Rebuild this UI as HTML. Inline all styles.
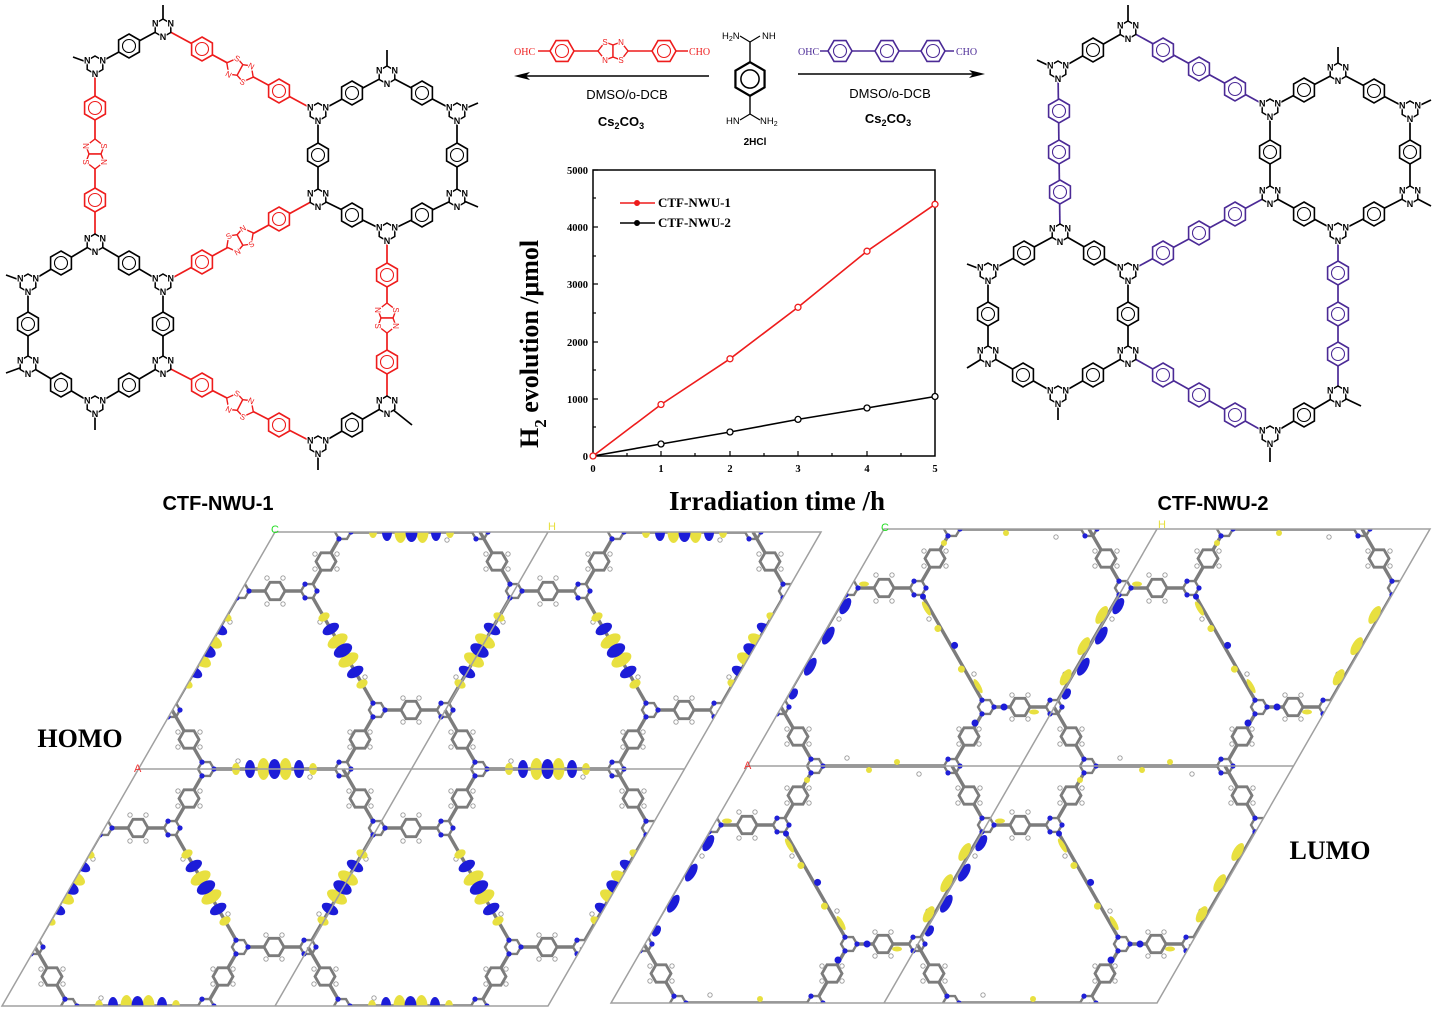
<!DOCTYPE html>
<html><head><meta charset="utf-8"><style>
html,body{margin:0;padding:0;background:#fff;overflow:hidden;width:1435px;height:1012px}
svg{display:block}
.sans{font-family:"Liberation Sans",sans-serif}
.serif{font-family:"Liberation Serif",serif}
</style></head><body>
<svg width="1435" height="1012" viewBox="0 0 1435 1012" xmlns="http://www.w3.org/2000/svg">
<defs>
<g id="tri"><polygon points="0,-9 7.8,-4.5 7.8,4.5 0,9 -7.8,4.5 -7.8,-4.5" fill="#fff" stroke="currentColor" stroke-width="1.5"/>
<g font-family="Liberation Sans,sans-serif" font-size="9" font-weight="bold" text-anchor="middle" fill="currentColor" stroke="#fff" stroke-width="2" paint-order="stroke"><text x="-7.8" y="-1.5">N</text><text x="7.8" y="-1.5">N</text><text x="0" y="12">N</text></g></g>
<g id="ph"><polygon points="0,-12 10.4,-6 10.4,6 0,12 -10.4,6 -10.4,-6" fill="#fff" stroke="currentColor" stroke-width="1.6"/><circle r="6.5" fill="none" stroke="currentColor" stroke-width="1.1"/></g>
<g id="tz"><polygon points="0,-6 -8,-9 -15,0 -8,9 0,6" fill="#fff" stroke="currentColor" stroke-width="1.4"/><polygon points="0,-6 8,-9 15,0 8,9 0,6" fill="#fff" stroke="currentColor" stroke-width="1.4"/>
<g font-family="Liberation Sans,sans-serif" font-size="8" text-anchor="middle" fill="currentColor" stroke="#fff" stroke-width="2" paint-order="stroke"><text x="-8" y="-6">S</text><text x="-8" y="12">N</text><text x="8" y="-6">N</text><text x="8" y="12">S</text></g></g>

<g id="bph"><polygon points="10,0 5,8.7 -5,8.7 -10,0 -5,-8.7 5,-8.7" fill="#fff" stroke="#7c7c7c" stroke-width="2.8"/></g>
<g id="btr"><polygon points="8,0 4,6.9 -4,6.9 -8,0 -4,-6.9 4,-6.9" fill="#fff" stroke="#7c7c7c" stroke-width="2.4"/>
<circle cx="8" cy="0" r="2.6" fill="#2020d8"/><circle cx="-4" cy="6.9" r="2.6" fill="#2020d8"/><circle cx="-4" cy="-6.9" r="2.6" fill="#2020d8"/></g>
<g id="skel">
<g stroke="#7c7c7c" stroke-width="3.4" fill="none">
<line x1="-34" y1="59" x2="34" y2="59"/><line x1="34" y1="59" x2="68" y2="0"/><line x1="-34" y1="59" x2="-68" y2="0"/>
<line x1="68" y1="0" x2="34" y2="-59"/><line x1="102" y1="178" x2="68" y2="237"/><line x1="102" y1="178" x2="170" y2="178"/>
<line x1="34" y1="59" x2="102" y2="178"/><line x1="68" y1="0" x2="205" y2="0"/><line x1="-34" y1="59" x2="-103" y2="178"/>
</g>
<use href="#bph" x="0" y="59"/><use href="#bph" x="51" y="29.5"/><use href="#bph" x="-51" y="29.5"/><use href="#bph" x="51" y="-29.5"/><use href="#bph" x="85" y="207.5"/><use href="#bph" x="136" y="178"/>
<use href="#btr" x="-34" y="59"/><use href="#btr" x="34" y="59"/><use href="#btr" x="68" y="0"/><use href="#btr" x="205" y="0"/><use href="#btr" x="102" y="178"/><use href="#btr" x="-103" y="178"/>
<g fill="#fff" stroke="#999" stroke-width="0.9">
<circle cx="-8" cy="46" r="2.2"/><circle cx="8" cy="72" r="2.2"/><circle cx="-8" cy="72" r="2.2"/><circle cx="8" cy="46" r="2.2"/>
<circle cx="40" cy="22" r="2.2"/><circle cx="62" cy="37" r="2.2"/><circle cx="40" cy="37" r="2.2"/><circle cx="62" cy="22" r="2.2"/>
<circle cx="-40" cy="22" r="2.2"/><circle cx="-62" cy="37" r="2.2"/><circle cx="-40" cy="37" r="2.2"/><circle cx="-62" cy="22" r="2.2"/>
<circle cx="40" cy="-22" r="2.2"/><circle cx="62" cy="-37" r="2.2"/><circle cx="40" cy="-37" r="2.2"/><circle cx="62" cy="-22" r="2.2"/>
<circle cx="75" cy="200" r="2.2"/><circle cx="95" cy="215" r="2.2"/><circle cx="75" cy="215" r="2.2"/><circle cx="95" cy="200" r="2.2"/>
<circle cx="128" cy="166" r="2.2"/><circle cx="144" cy="190" r="2.2"/><circle cx="128" cy="190" r="2.2"/><circle cx="144" cy="166" r="2.2"/>
<circle cx="45" cy="90" r="2.2"/><circle cx="90" cy="145" r="2.2"/><circle cx="100" cy="-8" r="2.2"/><circle cx="172" cy="8" r="2.2"/><circle cx="-45" cy="90" r="2.2"/><circle cx="-92" cy="145" r="2.2"/>
</g>
</g>
<g id="cellH">
<use href="#skel"/>
<g fill="#e8e040"><ellipse rx="4" ry="6" transform="translate(49,85) rotate(60)"/><ellipse rx="6" ry="11" transform="translate(62.6,109) rotate(60)"/><ellipse rx="6" ry="11" transform="translate(73.4,128) rotate(60)"/><ellipse rx="4" ry="6" transform="translate(87,152) rotate(60)"/></g>
<g fill="#1c1cd8"><ellipse rx="5" ry="9" transform="translate(55.8,97) rotate(60)"/><ellipse rx="6" ry="10" transform="translate(68,118.5) rotate(60)"/><ellipse rx="5" ry="9" transform="translate(80.2,140) rotate(60)"/></g>
<g fill="#e8e040"><ellipse rx="4" ry="6" cx="98" cy="0"/><ellipse rx="6" ry="11" cx="125.5" cy="0"/><ellipse rx="6" ry="11" cx="147.5" cy="0"/><ellipse rx="4" ry="6" cx="175" cy="0"/></g>
<g fill="#1c1cd8"><ellipse rx="5" ry="9" cx="112" cy="0"/><ellipse rx="6" ry="10" cx="136.5" cy="0"/><ellipse rx="5" ry="9" cx="161" cy="0"/></g>
<g fill="#e8e040"><ellipse rx="4" ry="6" transform="translate(-49,85) rotate(120)"/><ellipse rx="6" ry="11" transform="translate(-63,109) rotate(120)"/><ellipse rx="6" ry="11" transform="translate(-74,128) rotate(120)"/><ellipse rx="4" ry="6" transform="translate(-88,152) rotate(120)"/></g>
<g fill="#1c1cd8"><ellipse rx="5" ry="9" transform="translate(-56,97) rotate(120)"/><ellipse rx="6" ry="10" transform="translate(-68.5,118.5) rotate(120)"/><ellipse rx="5" ry="9" transform="translate(-81,140) rotate(120)"/></g>
</g>
<g id="cellL">
<use href="#skel"/>
<g transform="translate(-34,59) rotate(120)">
<ellipse cx="18" cy="-5" rx="9" ry="4.5" fill="#1c1cd8"/><ellipse cx="34" cy="5" rx="10" ry="4.5" fill="#e8e040"/><ellipse cx="52" cy="-5" rx="10" ry="4.5" fill="#1c1cd8"/><ellipse cx="70" cy="5" rx="10" ry="4.5" fill="#e8e040"/><ellipse cx="88" cy="-5" rx="10" ry="4.5" fill="#1c1cd8"/><ellipse cx="106" cy="5" rx="9" ry="4.5" fill="#e8e040"/><ellipse cx="120" cy="-4" rx="6" ry="4" fill="#1c1cd8"/>
</g>
<g transform="translate(34,59) rotate(60)">
<ellipse cx="22" cy="3" rx="8" ry="2.5" fill="#e8e040"/><circle cx="45" cy="3" r="3.5" fill="#e8e040"/><circle cx="68" cy="-3" r="3.5" fill="#1c1cd8"/><circle cx="92" cy="3" r="3.5" fill="#e8e040"/><ellipse cx="115" cy="-3" rx="8" ry="2.5" fill="#e8e040"/><circle cx="10" cy="0" r="3" fill="#1c1cd8"/>
</g>
<circle cx="122" cy="4" r="3" fill="#e8e040"/><circle cx="150" cy="-4" r="3" fill="#e8e040"/>
<circle cx="91" cy="194" r="3.5" fill="#1c1cd8"/><circle cx="120" cy="178" r="3.5" fill="#1c1cd8"/><circle cx="60" cy="14" r="3" fill="#e8e040"/>
<ellipse cx="150" cy="183" rx="5" ry="2.5" fill="#e8e040"/><ellipse cx="-20" cy="55" rx="5" ry="2.5" fill="#e8e040"/>
</g>
<clipPath id="clipL"><polygon points="275,532 821,532 548,1006 2,1006"/></clipPath>
<clipPath id="clipR"><polygon points="884,529 1430,529 1157,1003 611,1003"/></clipPath>
</defs>

<!-- ============ LEFT NETWORK ============ -->
<g stroke="#000" stroke-width="1.7" fill="none">
<line x1="95" y1="65" x2="163" y2="28"/><line x1="318" y1="112" x2="387" y2="75"/><line x1="387" y1="75" x2="457" y2="112"/>
<line x1="318" y1="112" x2="318" y2="198"/><line x1="457" y1="112" x2="457" y2="198"/><line x1="318" y1="198" x2="387" y2="232"/>
<line x1="387" y1="232" x2="457" y2="198"/><line x1="95" y1="243" x2="28" y2="283"/><line x1="95" y1="243" x2="163" y2="283"/>
<line x1="28" y1="283" x2="28" y2="365"/><line x1="163" y1="283" x2="163" y2="365"/><line x1="28" y1="365" x2="95" y2="405"/>
<line x1="163" y1="365" x2="95" y2="405"/><line x1="387" y1="405" x2="318" y2="445"/>
<line x1="163" y1="28" x2="163" y2="5"/><line x1="95" y1="65" x2="73" y2="57"/><line x1="387" y1="75" x2="387" y2="50"/>
<line x1="457" y1="112" x2="478" y2="103"/><line x1="457" y1="198" x2="478" y2="207"/><line x1="28" y1="283" x2="6" y2="275"/>
<line x1="28" y1="365" x2="6" y2="373"/><line x1="95" y1="405" x2="95" y2="430"/><line x1="387" y1="405" x2="412" y2="425"/><line x1="318" y1="445" x2="318" y2="470"/>
</g>
<g stroke="#ee1c1c" stroke-width="1.7">
<line x1="163" y1="28" x2="318" y2="112"/><line x1="95" y1="65" x2="95" y2="243"/><line x1="318" y1="198" x2="163" y2="283"/>
<line x1="387" y1="232" x2="387" y2="405"/><line x1="163" y1="365" x2="318" y2="445"/>
</g>
<g color="#000">
<use href="#ph" x="129" y="46"/><use href="#ph" x="352" y="93"/><use href="#ph" x="422" y="93"/><use href="#ph" x="318" y="155"/>
<use href="#ph" x="457" y="155"/><use href="#ph" x="352" y="215"/><use href="#ph" x="422" y="215"/><use href="#ph" x="61" y="263"/>
<use href="#ph" x="129" y="263"/><use href="#ph" x="28" y="324"/><use href="#ph" x="163" y="324"/><use href="#ph" x="61" y="385"/>
<use href="#ph" x="129" y="385"/><use href="#ph" x="352" y="425"/>
</g>
<g color="#ee1c1c">
<use href="#ph" x="202" y="49"/><use href="#ph" x="279" y="91"/><use href="#tz" transform="translate(240,70) rotate(28.5)"/>
<use href="#ph" x="95" y="108"/><use href="#ph" x="95" y="200"/><use href="#tz" transform="translate(95,154) rotate(90)"/>
<use href="#ph" x="279" y="219"/><use href="#ph" x="202" y="262"/><use href="#tz" transform="translate(240,240) rotate(-28.7)"/>
<use href="#ph" x="387" y="275"/><use href="#ph" x="387" y="362"/><use href="#tz" transform="translate(387,318) rotate(90)"/>
<use href="#ph" x="202" y="385"/><use href="#ph" x="279" y="425"/><use href="#tz" transform="translate(240,405) rotate(27.3)"/>
</g>
<g color="#000">
<use href="#tri" x="163" y="28"/><use href="#tri" x="95" y="65"/><use href="#tri" x="318" y="112"/><use href="#tri" x="457" y="112"/>
<use href="#tri" x="387" y="75"/><use href="#tri" x="318" y="198"/><use href="#tri" x="387" y="232"/><use href="#tri" x="457" y="198"/>
<use href="#tri" x="95" y="243"/><use href="#tri" x="28" y="283"/><use href="#tri" x="163" y="283"/><use href="#tri" x="28" y="365"/>
<use href="#tri" x="163" y="365"/><use href="#tri" x="95" y="405"/><use href="#tri" x="387" y="405"/><use href="#tri" x="318" y="445"/>
</g>

<!-- ============ RIGHT NETWORK ============ -->
<g stroke="#000" stroke-width="1.7" fill="none">
<line x1="1058" y1="70" x2="1128" y2="30"/><line x1="1270" y1="108" x2="1338" y2="72"/><line x1="1338" y1="72" x2="1410" y2="110"/>
<line x1="1270" y1="108" x2="1270" y2="195"/><line x1="1410" y1="110" x2="1410" y2="195"/><line x1="1270" y1="195" x2="1338" y2="232"/>
<line x1="1338" y1="232" x2="1410" y2="195"/><line x1="1060" y1="233" x2="988" y2="272"/><line x1="1060" y1="233" x2="1128" y2="272"/>
<line x1="988" y1="272" x2="988" y2="355"/><line x1="1128" y1="272" x2="1128" y2="355"/><line x1="988" y1="355" x2="1058" y2="395"/>
<line x1="1128" y1="355" x2="1058" y2="395"/><line x1="1338" y1="395" x2="1270" y2="435"/>
<line x1="1128" y1="30" x2="1128" y2="5"/><line x1="1058" y1="70" x2="1037" y2="60"/><line x1="1338" y1="72" x2="1338" y2="47"/>
<line x1="1410" y1="110" x2="1431" y2="100"/><line x1="1410" y1="195" x2="1431" y2="206"/><line x1="988" y1="272" x2="967" y2="264"/>
<line x1="988" y1="355" x2="967" y2="368"/><line x1="1058" y1="395" x2="1058" y2="420"/><line x1="1338" y1="395" x2="1361" y2="406"/><line x1="1270" y1="435" x2="1270" y2="462"/>
</g>
<g stroke="#4b2a96" stroke-width="1.7">
<line x1="1128" y1="30" x2="1270" y2="108"/><line x1="1058" y1="70" x2="1060" y2="233"/><line x1="1270" y1="195" x2="1128" y2="272"/>
<line x1="1338" y1="232" x2="1338" y2="395"/><line x1="1128" y1="355" x2="1270" y2="435"/>
</g>
<g color="#000">
<use href="#ph" x="1093" y="50"/><use href="#ph" x="1304" y="90"/><use href="#ph" x="1374" y="91"/><use href="#ph" x="1270" y="152"/>
<use href="#ph" x="1410" y="152"/><use href="#ph" x="1304" y="214"/><use href="#ph" x="1374" y="214"/><use href="#ph" x="1024" y="253"/>
<use href="#ph" x="1094" y="253"/><use href="#ph" x="988" y="314"/><use href="#ph" x="1128" y="314"/><use href="#ph" x="1023" y="375"/>
<use href="#ph" x="1093" y="375"/><use href="#ph" x="1304" y="415"/>
</g>
<g color="#4b2a96">
<use href="#ph" x="1163" y="50"/><use href="#ph" x="1199" y="69"/><use href="#ph" x="1235" y="89"/>
<use href="#ph" x="1059" y="111"/><use href="#ph" x="1059" y="152"/><use href="#ph" x="1060" y="192"/>
<use href="#ph" x="1235" y="214"/><use href="#ph" x="1199" y="233"/><use href="#ph" x="1163" y="253"/>
<use href="#ph" x="1338" y="273"/><use href="#ph" x="1338" y="314"/><use href="#ph" x="1338" y="354"/>
<use href="#ph" x="1163" y="375"/><use href="#ph" x="1199" y="395"/><use href="#ph" x="1235" y="415"/>
</g>
<g color="#000">
<use href="#tri" x="1128" y="30"/><use href="#tri" x="1058" y="70"/><use href="#tri" x="1270" y="108"/><use href="#tri" x="1338" y="72"/>
<use href="#tri" x="1410" y="110"/><use href="#tri" x="1270" y="195"/><use href="#tri" x="1338" y="232"/><use href="#tri" x="1410" y="195"/>
<use href="#tri" x="1060" y="233"/><use href="#tri" x="988" y="272"/><use href="#tri" x="1128" y="272"/><use href="#tri" x="988" y="355"/>
<use href="#tri" x="1128" y="355"/><use href="#tri" x="1058" y="395"/><use href="#tri" x="1338" y="395"/><use href="#tri" x="1270" y="435"/>
</g>

<!-- ============ REACTION SCHEME ============ -->
<g color="#ee1c1c">
<line x1="538" y1="51" x2="688" y2="51" stroke="#ee1c1c" stroke-width="1.4"/>
<use href="#ph" transform="translate(562,51) rotate(90)"/><use href="#tz" x="613" y="51"/><use href="#ph" transform="translate(664,51) rotate(90)"/>
<text x="514" y="55" font-family="Liberation Serif,serif" font-size="10" fill="#ee1c1c">OHC</text>
<text x="689" y="55" font-family="Liberation Serif,serif" font-size="10" fill="#ee1c1c">CHO</text>
</g>
<line x1="709" y1="76" x2="525" y2="76" stroke="#000" stroke-width="1.4"/>
<polygon points="514,76 530,72 526,76 530,80" fill="#000"/>
<text x="627" y="99" class="sans" font-size="13" text-anchor="middle">DMSO/o-DCB</text>
<text x="621" y="126" class="sans" font-size="13" font-weight="bold" text-anchor="middle">Cs<tspan font-size="9" dy="3">2</tspan><tspan dy="-3">CO</tspan><tspan font-size="9" dy="3">3</tspan></text>

<g color="#000">
<line x1="750" y1="42" x2="750" y2="114" stroke="#000" stroke-width="1.4"/>
<line x1="750" y1="42" x2="740" y2="36" stroke="#000" stroke-width="1.2"/><line x1="750" y1="42" x2="760" y2="36" stroke="#000" stroke-width="1.2"/>
<line x1="750" y1="114" x2="740" y2="120" stroke="#000" stroke-width="1.2"/><line x1="750" y1="114" x2="760" y2="120" stroke="#000" stroke-width="1.2"/>
<g transform="translate(750,79) scale(1.4)"><use href="#ph"/></g>
<g class="sans" font-size="9.5"><text x="722" y="39">H<tspan font-size="7" dy="2">2</tspan><tspan dy="-2">N</tspan></text><text x="762" y="39">NH</text>
<text x="726" y="124">HN</text><text x="760" y="124">NH<tspan font-size="7" dy="2">2</tspan></text></g>
<text x="755" y="145" class="sans" font-size="10" font-weight="bold" text-anchor="middle">2HCl</text>
</g>

<g color="#4b2a96">
<line x1="820" y1="51" x2="954" y2="51" stroke="#4b2a96" stroke-width="1.4"/>
<use href="#ph" transform="translate(840,51) rotate(90)"/><use href="#ph" transform="translate(887,51) rotate(90)"/><use href="#ph" transform="translate(933,51) rotate(90)"/>
<text x="798" y="55" font-family="Liberation Serif,serif" font-size="10" fill="#4b2a96">OHC</text>
<text x="956" y="55" font-family="Liberation Serif,serif" font-size="10" fill="#4b2a96">CHO</text>
</g>
<line x1="798" y1="74" x2="973" y2="74" stroke="#000" stroke-width="1.4"/>
<polygon points="985,74 969,70 973,74 969,78" fill="#000"/>
<text x="890" y="98" class="sans" font-size="13" text-anchor="middle">DMSO/o-DCB</text>
<text x="888" y="123" class="sans" font-size="13" font-weight="bold" text-anchor="middle">Cs<tspan font-size="9" dy="3">2</tspan><tspan dy="-3">CO</tspan><tspan font-size="9" dy="3">3</tspan></text>

<!-- ============ CHART ============ -->
<rect x="593" y="170" width="342" height="286" fill="none" stroke="#000" stroke-width="1.5"/>
<g stroke="#000" stroke-width="1.2">
<line x1="593" y1="170" x2="598" y2="170"/><line x1="593" y1="227" x2="598" y2="227"/><line x1="593" y1="284" x2="598" y2="284"/><line x1="593" y1="342" x2="598" y2="342"/><line x1="593" y1="399" x2="598" y2="399"/>
<line x1="593" y1="198" x2="596" y2="198"/><line x1="593" y1="256" x2="596" y2="256"/><line x1="593" y1="313" x2="596" y2="313"/><line x1="593" y1="370" x2="596" y2="370"/><line x1="593" y1="427" x2="596" y2="427"/>
<line x1="661" y1="456" x2="661" y2="451"/><line x1="730" y1="456" x2="730" y2="451"/><line x1="798" y1="456" x2="798" y2="451"/><line x1="867" y1="456" x2="867" y2="451"/>
<line x1="627" y1="456" x2="627" y2="453"/><line x1="695" y1="456" x2="695" y2="453"/><line x1="764" y1="456" x2="764" y2="453"/><line x1="832" y1="456" x2="832" y2="453"/><line x1="901" y1="456" x2="901" y2="453"/>
</g>
<g class="serif" font-size="10.5" font-weight="bold" text-anchor="end">
<text x="588" y="174">5000</text><text x="588" y="231">4000</text><text x="588" y="288">3000</text><text x="588" y="346">2000</text><text x="588" y="403">1000</text><text x="588" y="460">0</text>
</g>
<g class="serif" font-size="10.5" font-weight="bold" text-anchor="middle">
<text x="593" y="472">0</text><text x="661" y="472">1</text><text x="730" y="472">2</text><text x="798" y="472">3</text><text x="867" y="472">4</text><text x="935" y="472">5</text>
</g>
<polyline points="593,456 661,404.5 730,358.8 798,307.3 867,251.2 935,204.3" fill="none" stroke="#ee1c1c" stroke-width="1.6"/>
<polyline points="593,456 661,444 730,432 798,419.4 867,408 935,396.5" fill="none" stroke="#000" stroke-width="1.6"/>
<g fill="#fff" stroke="#ee1c1c" stroke-width="1.3">
<circle cx="593" cy="456" r="3"/><circle cx="661" cy="404.5" r="3"/><circle cx="730" cy="358.8" r="3"/><circle cx="798" cy="307.3" r="3"/><circle cx="867" cy="251.2" r="3"/><circle cx="935" cy="204.3" r="3"/>
</g>
<g fill="#fff" stroke="#000" stroke-width="1.3">
<circle cx="661" cy="444" r="3"/><circle cx="730" cy="432" r="3"/><circle cx="798" cy="419.4" r="3"/><circle cx="867" cy="408" r="3"/><circle cx="935" cy="396.5" r="3"/>
</g>
<line x1="620" y1="203" x2="655" y2="203" stroke="#ee1c1c" stroke-width="1.6"/><circle cx="637" cy="203" r="3" fill="#ee1c1c"/>
<line x1="620" y1="223" x2="655" y2="223" stroke="#000" stroke-width="1.6"/><circle cx="637" cy="223" r="3" fill="#000"/>
<text x="658" y="207" class="serif" font-size="13" font-weight="bold">CTF-NWU-1</text>
<text x="658" y="227" class="serif" font-size="13" font-weight="bold">CTF-NWU-2</text>
<text transform="translate(538,448) rotate(-90)" class="serif" font-size="26" font-weight="bold">H<tspan font-size="17" dy="8">2</tspan><tspan dy="-8"> evolution /μmol</tspan></text>
<text x="777" y="510" class="serif" font-size="27" font-weight="bold" text-anchor="middle">Irradiation time /h</text>

<text x="218" y="510" class="sans" font-size="20" font-weight="bold" text-anchor="middle">CTF-NWU-1</text>
<text x="1213" y="510" class="sans" font-size="20" font-weight="bold" text-anchor="middle">CTF-NWU-2</text>

<!-- ============ BOTTOM PANELS ============ -->
<g clip-path="url(#clipL)">
<use href="#cellH" x="139" y="295"/><use href="#cellH" x="412" y="295"/><use href="#cellH" x="685" y="295"/><use href="#cellH" x="958" y="295"/>
<use href="#cellH" x="-271" y="532"/><use href="#cellH" x="2" y="532"/><use href="#cellH" x="275" y="532"/><use href="#cellH" x="548" y="532"/><use href="#cellH" x="821" y="532"/>
<use href="#cellH" x="-135" y="769"/><use href="#cellH" x="138" y="769"/><use href="#cellH" x="411" y="769"/><use href="#cellH" x="684" y="769"/><use href="#cellH" x="957" y="769"/>
<use href="#cellH" x="-272" y="1006"/><use href="#cellH" x="1" y="1006"/><use href="#cellH" x="274" y="1006"/><use href="#cellH" x="547" y="1006"/><use href="#cellH" x="820" y="1006"/>
</g>
<g fill="none" stroke="#a0a0a0" stroke-width="1.5">
<polygon points="275,532 821,532 548,1006 2,1006"/>
<line x1="548" y1="532" x2="275" y2="1006"/><line x1="138" y1="769" x2="685" y2="769"/>
</g>
<text x="271" y="533" class="sans" font-size="11" fill="#22dd22">C</text>
<text x="548" y="530" class="sans" font-size="11" fill="#e8e040">H</text>
<text x="134" y="772" class="sans" font-size="11" fill="#ee3333">A</text>
<text x="80" y="747" class="serif" font-size="26" font-weight="bold" text-anchor="middle">HOMO</text>

<g clip-path="url(#clipR)">
<use href="#cellL" x="475" y="292"/><use href="#cellL" x="748" y="292"/><use href="#cellL" x="1021" y="292"/><use href="#cellL" x="1294" y="292"/><use href="#cellL" x="1567" y="292"/>
<use href="#cellL" x="338" y="529"/><use href="#cellL" x="611" y="529"/><use href="#cellL" x="884" y="529"/><use href="#cellL" x="1157" y="529"/><use href="#cellL" x="1430" y="529"/>
<use href="#cellL" x="474" y="766"/><use href="#cellL" x="747" y="766"/><use href="#cellL" x="1020" y="766"/><use href="#cellL" x="1293" y="766"/><use href="#cellL" x="1566" y="766"/>
<use href="#cellL" x="337" y="1003"/><use href="#cellL" x="610" y="1003"/><use href="#cellL" x="883" y="1003"/><use href="#cellL" x="1156" y="1003"/><use href="#cellL" x="1429" y="1003"/>
</g>
<g fill="none" stroke="#a0a0a0" stroke-width="1.5">
<polygon points="884,529 1430,529 1157,1003 611,1003"/>
<line x1="1157" y1="529" x2="884" y2="1003"/><line x1="747" y1="766" x2="1294" y2="766"/>
</g>
<text x="881" y="531" class="sans" font-size="11" fill="#22dd22">C</text>
<text x="1158" y="528" class="sans" font-size="11" fill="#e8e040">H</text>
<text x="744" y="769" class="sans" font-size="11" fill="#ee3333">A</text>
<text x="1330" y="859" class="serif" font-size="26" font-weight="bold" text-anchor="middle">LUMO</text>
</svg>
</body></html>
